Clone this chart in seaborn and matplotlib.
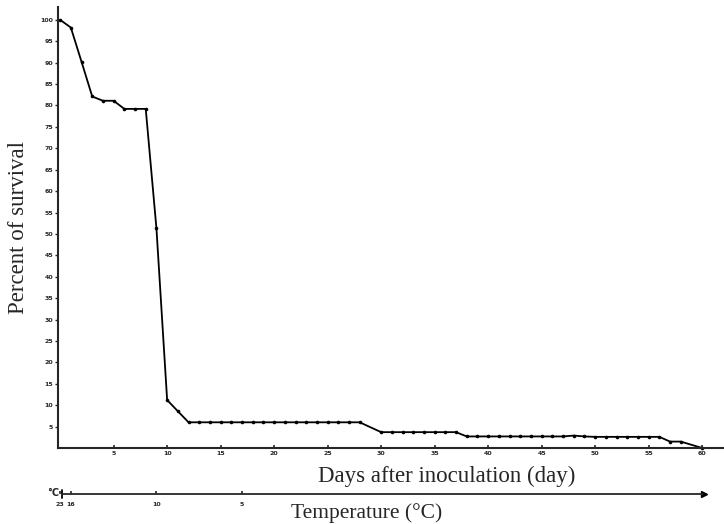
import pandas as pd
import matplotlib
matplotlib.use("Agg")
import matplotlib.pyplot as plt
import seaborn as sns

# survival, one point per day
days = [0, 1, 2, 3, 4, 5, 6, 7, 8, 9, 10, 11, 12, 13, 14, 15, 16, 17, 18, 19,
        20, 21, 22, 23, 24, 25, 26, 27, 28,
        30, 31, 32, 33, 34, 35, 36, 37,
        38, 39, 40, 41, 42, 43, 44, 45, 46, 47, 48, 49, 50, 51, 52, 53, 54, 55, 56,
        57, 58, 60]
survival = [100, 98.2, 90.2, 82.1, 81.1, 81.1, 79.2, 79.2, 79.2, 51.3, 11.2, 8.6,
            6.0, 6.0, 6.0, 6.0, 6.0, 6.0, 6.0, 6.0, 6.0, 6.0, 6.0, 6.0, 6.0, 6.0,
            6.0, 6.0, 6.0,
            3.7, 3.7, 3.7, 3.7, 3.7, 3.7, 3.7, 3.7,
            2.7, 2.7, 2.7, 2.7, 2.7, 2.7, 2.7, 2.7, 2.7, 2.7, 2.9, 2.7, 2.6, 2.6,
            2.6, 2.6, 2.6, 2.6, 2.6,
            1.5, 1.5, 0.0]

day_ticks = [5, 10, 15, 20, 25, 30, 35, 40, 45, 50, 55, 60]
pct_ticks = [5, 10, 15, 20, 25, 30, 35, 40, 45, 50, 55, 60, 65, 70, 75, 80, 85, 90, 95, 100]

# temperature scale under the day axis
temp_days = [0, 1, 9, 17]
temp_labels = ["23", "16", "10", "5"]

df = pd.DataFrame({"day": days, "survival": survival})

sns.set_style("ticks")
plt.rcParams["font.family"] = ["DejaVu Sans"]
serif = ["Liberation Serif", "DejaVu Serif"]

W, H = 724, 524
fig = plt.figure(figsize=(W / 100, H / 100), dpi=100)

ax = fig.add_axes([58 / W, 1 - 448 / H, 665 / W, 441 / H])
sns.lineplot(x="day", y="survival", data=df, ax=ax, color="black", linewidth=1.3,
             marker="o", markersize=2.6, markeredgewidth=0, clip_on=False)
ax.set_xlim(-0.2, 61.95)
ax.set_ylim(0, 103)
sns.despine(ax=ax)
for side in ["left", "bottom"]:
    ax.spines[side].set_linewidth(1.5)

ax.set_xticks(day_ticks)
ax.set_xticklabels([str(t) for t in day_ticks])
ax.set_yticks(pct_ticks)
ax.set_yticklabels([str(t) for t in pct_ticks])
ax.tick_params(axis="x", direction="in", length=2, width=1.2, pad=2, labelsize=4.5)
ax.tick_params(axis="y", direction="out", length=2.5, width=1.0, pad=1, labelsize=4.5)
for lab in ax.get_xticklabels() + ax.get_yticklabels():
    lab.set_fontweight("bold")

ax.set_xlabel("Days after inoculation (day)", family=serif, fontsize=16.5)
ax.xaxis.set_label_coords(0.585, -0.041)
ax.set_ylabel("Percent of survival", family=serif, fontsize=16.5)
ax.yaxis.set_label_coords(-0.044, 0.5)

# temperature axis with arrow
ax2 = fig.add_axes([58 / W, 1 - 499 / H, 665 / W, 10 / H])
ax2.set_xlim(ax.get_xlim())
ax2.set_ylim(-1, 1)
ax2.patch.set_alpha(0)
for side in ["left", "right", "top"]:
    ax2.spines[side].set_visible(False)
ax2.spines["bottom"].set_position(("data", 0))
ax2.spines["bottom"].set_bounds(0.2, 60.0)
ax2.spines["bottom"].set_linewidth(1.3)
ax2.plot([0.2, 0.2], [-0.8, 0.8], color="black", linewidth=1.3)
ax2.plot([60.2], [0], marker=">", color="black", markersize=5, clip_on=False)
ax2.set_yticks([])
ax2.set_xticks(temp_days)
ax2.set_xticklabels(temp_labels)
ax2.tick_params(axis="x", direction="in", length=2, width=1.2, pad=5.5, labelsize=4.5)
for lab in ax2.get_xticklabels():
    lab.set_fontweight("bold")

fig.text(47 / W, 1 - 493 / H, "°C", ha="left", va="center", fontsize=7, fontweight="bold")
fig.text(367 / W, 1 - 513 / H, "Temperature (°C)", ha="center", va="center",
         family=serif, fontsize=15.5)

fig.savefig("out.png", dpi=100)
